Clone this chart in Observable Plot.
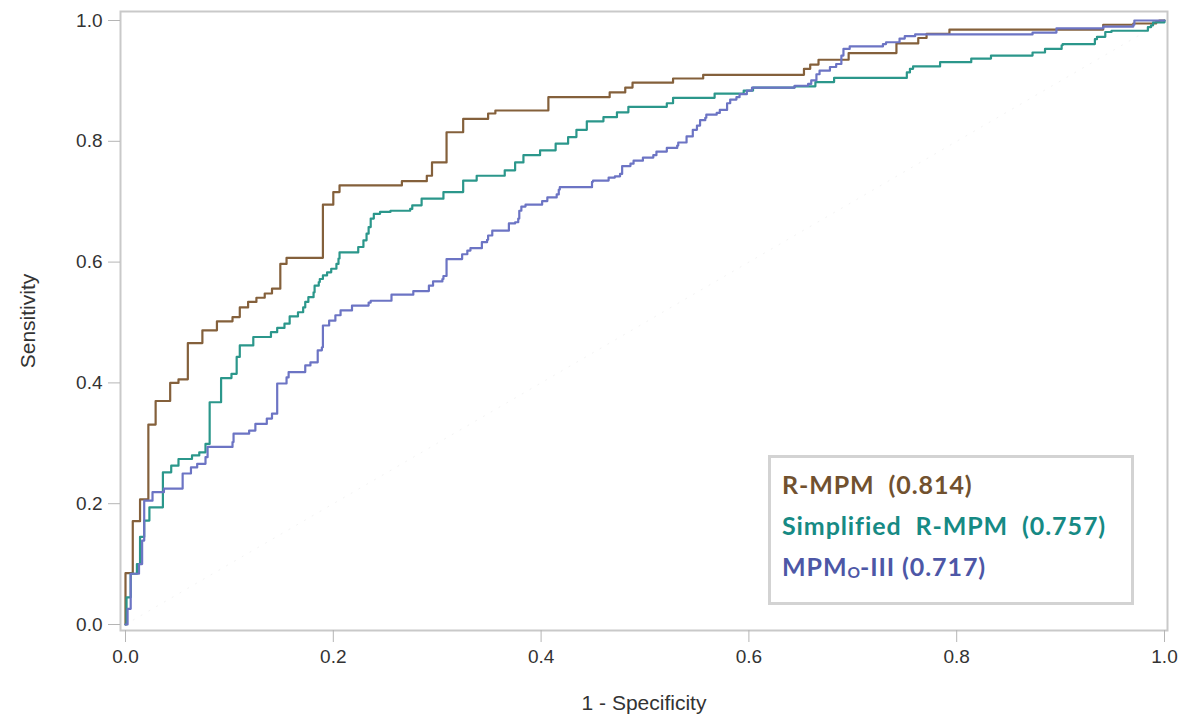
<!DOCTYPE html>
<html>
<head>
<meta charset="utf-8">
<script src="https://cdn.jsdelivr.net/npm/d3@7"></script>
<script src="https://cdn.jsdelivr.net/npm/@observablehq/plot@0.6"></script>
<style>
  html, body { margin: 0; padding: 0; background: #fff; }
  #wrap { position: relative; width: 1190px; height: 719px; }
  #legend {
    position: absolute; left: 768px; top: 455px; width: 349px; height: 138px;
    border: 3px solid #d3d3d3; background: #fff;
    font-family: Lato, "Open Sans", sans-serif; font-weight: 700; font-size: 25px;
    letter-spacing: 0.9px;
    line-height: 41px; padding: 6px 0 0 11px; box-sizing: content-box; white-space: pre;
  }
  #legend div { height: 41px; }
  #legend sub { font-size: 0.62em; vertical-align: -0.1em; letter-spacing: 0; }
</style>
</head>
<body>
<div id="wrap"></div>
<script>
// ---- data ----
const seriesNames = ["R-MPM", "Simplified R-MPM", "MPMo-III"];
const seriesColors = ["#84603b", "#2b978b", "#6c74c4"];
const aucLabels = ["R-MPM  (0.814)", "Simplified  R-MPM  (0.757)", "MPM|O|-III (0.717)"];
const xTicks = [0, 0.2, 0.4, 0.6, 0.8, 1.0];
const yTicks = [0, 0.2, 0.4, 0.6, 0.8, 1.0];

const rmpm = [[0,0],[0,0.085],[0.007,0.171],[0.014,0.207],[0.022,0.331],[0.029,0.370],[0.043,0.400],[0.051,0.406],[0.060,0.466],[0.074,0.487],[0.088,0.502],[0.103,0.509],[0.110,0.525],[0.118,0.534],[0.126,0.541],[0.134,0.548],[0.141,0.556],[0.149,0.597],[0.155,0.607],[0.190,0.695],[0.200,0.716],[0.206,0.727],[0.266,0.734],[0.290,0.743],[0.295,0.765],[0.309,0.815],[0.325,0.837],[0.349,0.846],[0.356,0.851],[0.407,0.873],[0.466,0.881],[0.481,0.889],[0.488,0.897],[0.527,0.904],[0.556,0.910],[0.653,0.920],[0.659,0.927],[0.667,0.935],[0.696,0.946],[0.742,0.962],[0.763,0.971],[0.771,0.978],[0.793,0.985],[0.941,0.993],[0.970,0.995],[0.992,0.998],[0.995,1.0],[1,1]];

const simplified = [[0,0],[0.001,0.045],[0.005,0.084],[0.011,0.100],[0.014,0.145],[0.018,0.172],[0.023,0.194],[0.036,0.252],[0.044,0.263],[0.051,0.274],[0.064,0.280],[0.071,0.285],[0.077,0.299],[0.081,0.368],[0.092,0.408],[0.102,0.415],[0.107,0.443],[0.110,0.462],[0.123,0.476],[0.140,0.484],[0.146,0.491],[0.153,0.498],[0.158,0.510],[0.166,0.517],[0.171,0.525],[0.173,0.534],[0.176,0.542],[0.181,0.550],[0.182,0.561],[0.186,0.567],[0.187,0.572],[0.190,0.578],[0.194,0.583],[0.198,0.589],[0.203,0.597],[0.205,0.606],[0.206,0.616],[0.224,0.625],[0.229,0.636],[0.232,0.647],[0.234,0.658],[0.236,0.672],[0.239,0.680],[0.245,0.683],[0.255,0.685],[0.274,0.688],[0.276,0.694],[0.285,0.705],[0.306,0.716],[0.325,0.735],[0.338,0.743],[0.365,0.752],[0.375,0.765],[0.383,0.777],[0.399,0.785],[0.414,0.796],[0.426,0.807],[0.434,0.819],[0.444,0.833],[0.460,0.840],[0.473,0.848],[0.484,0.857],[0.521,0.863],[0.527,0.872],[0.567,0.879],[0.595,0.884],[0.604,0.889],[0.644,0.891],[0.664,0.898],[0.682,0.905],[0.752,0.914],[0.755,0.920],[0.758,0.924],[0.784,0.931],[0.814,0.937],[0.833,0.942],[0.873,0.947],[0.885,0.953],[0.901,0.959],[0.902,0.961],[0.933,0.969],[0.935,0.973],[0.943,0.981],[0.949,0.983],[0.984,0.989],[0.987,0.992],[0.989,0.997],[1,1]];

const mpm = [[0,0],[0.002,0.026],[0.005,0.084],[0.013,0.100],[0.016,0.139],[0.018,0.205],[0.026,0.219],[0.037,0.225],[0.055,0.250],[0.063,0.260],[0.069,0.266],[0.077,0.277],[0.079,0.294],[0.103,0.302],[0.104,0.316],[0.119,0.321],[0.125,0.332],[0.136,0.341],[0.141,0.349],[0.146,0.399],[0.155,0.409],[0.157,0.418],[0.173,0.429],[0.178,0.434],[0.185,0.454],[0.189,0.459],[0.190,0.495],[0.196,0.503],[0.202,0.512],[0.207,0.520],[0.218,0.528],[0.234,0.533],[0.236,0.536],[0.256,0.546],[0.277,0.552],[0.292,0.561],[0.296,0.568],[0.305,0.572],[0.306,0.577],[0.309,0.605],[0.324,0.613],[0.329,0.619],[0.332,0.623],[0.343,0.633],[0.348,0.637],[0.349,0.644],[0.353,0.652],[0.369,0.664],[0.375,0.666],[0.378,0.672],[0.379,0.685],[0.381,0.692],[0.385,0.695],[0.401,0.701],[0.406,0.707],[0.415,0.712],[0.417,0.720],[0.418,0.724],[0.449,0.733],[0.450,0.735],[0.465,0.740],[0.471,0.742],[0.476,0.746],[0.478,0.759],[0.486,0.763],[0.489,0.768],[0.498,0.773],[0.508,0.777],[0.511,0.783],[0.521,0.789],[0.531,0.793],[0.532,0.798],[0.540,0.808],[0.546,0.819],[0.550,0.826],[0.553,0.835],[0.558,0.839],[0.559,0.844],[0.569,0.847],[0.572,0.852],[0.579,0.863],[0.582,0.869],[0.588,0.873],[0.591,0.878],[0.598,0.884],[0.603,0.889],[0.644,0.892],[0.657,0.895],[0.660,0.901],[0.665,0.911],[0.668,0.917],[0.678,0.923],[0.684,0.928],[0.689,0.942],[0.691,0.953],[0.697,0.957],[0.729,0.961],[0.732,0.964],[0.745,0.970],[0.750,0.974],[0.760,0.977],[0.873,0.980],[0.896,0.987],[0.941,0.990],[0.970,0.993],[0.971,1.0],[1,1]];

const diagonal = [[0,0],[1,1]];

// ---- build table ----
const curves = [rmpm, simplified, mpm];
const rows = [];
curves.forEach((pts, i) => pts.forEach(([fpr, tpr]) => rows.push({series: seriesNames[i], fpr, tpr})));

const axisFont = '"Liberation Sans Narrow", "Liberation Sans", Arial, sans-serif';

const chart = Plot.plot({
  width: 1190,
  height: 719,
  marginLeft: 120,
  marginRight: 23,
  marginTop: 11,
  marginBottom: 89,
  insetLeft: 5,
  insetRight: 3,
  insetTop: 9,
  insetBottom: 6,
  x: {domain: [0, 1]},
  y: {domain: [0, 1]},
  color: {domain: seriesNames, range: seriesColors},
  style: {fontFamily: axisFont, fontSize: "19px", color: "#333", background: "#fff"},
  marks: [
    Plot.line(diagonal, {x: d => d[0], y: d => d[1], stroke: "#f3f3f3", strokeWidth: 1, strokeDasharray: "1,8"}),
    Plot.line(rows, {x: "fpr", y: "tpr", z: "series", stroke: "series", curve: "step-after", strokeWidth: 2.2}),
    Plot.frame({stroke: "#c9c9c9", strokeWidth: 2}),
    Plot.axisX({ticks: xTicks, tickFormat: d3.format(".1f"), tickSize: 12, tickPadding: 7, stroke: "#b5b5b5", fill: "#333", fontSize: 19, label: null}),
    Plot.axisY({ticks: yTicks, tickFormat: d3.format(".1f"), tickSize: 12, tickPadding: 6, stroke: "#b5b5b5", fill: "#333", fontSize: 19, label: null}),
    Plot.text(["1 - Specificity"], {frameAnchor: "bottom", textAnchor: "middle", dy: 79, text: d => d, fontSize: 21, fill: "#333"}),
    Plot.text(["Sensitivity"], {frameAnchor: "left", textAnchor: "middle", dx: -92, rotate: -90, text: d => d, fontSize: 21, fill: "#333"})
  ]
});

const wrap = document.getElementById("wrap");
wrap.appendChild(chart);

// legend (inside plot area, lower right)
const legend = document.createElement("div");
legend.id = "legend";
aucLabels.forEach((lab, i) => {
  const line = document.createElement("div");
  line.style.color = ["#71512f", "#168a84", "#4d57a6"][i];
  const parts = lab.split("|");
  if (parts.length === 3) {
    line.appendChild(document.createTextNode(parts[0]));
    const s = document.createElement("sub");
    s.textContent = parts[1];
    line.appendChild(s);
    line.appendChild(document.createTextNode(parts[2]));
  } else {
    line.textContent = lab;
  }
  legend.appendChild(line);
});
wrap.appendChild(legend);
</script>
</body>
</html>
